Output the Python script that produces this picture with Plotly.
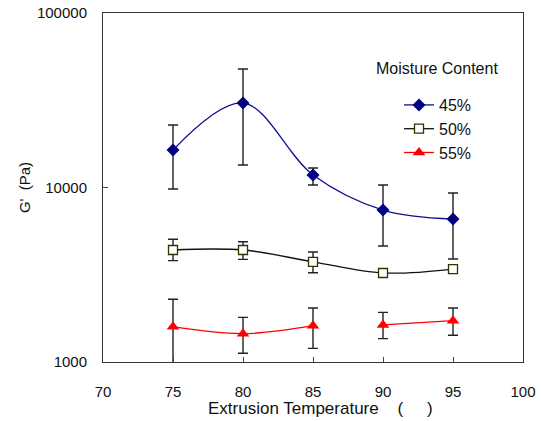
import plotly.graph_objects as go

temps = [75, 80, 85, 90, 95]

g45 = [16400, 30500, 11800, 7430, 6600]
g45_hi = [22800, 47800, 12940, 10330, 9300]
g45_lo = [9800, 13450, 10330, 4620, 3890]

g50 = [4385, 4385, 3750, 3236, 3410]
g50_hi = [5050, 4890, 4270, 3400, 3410]
g50_lo = [3810, 3875, 3250, 3080, 3410]

g55 = [1593, 1453, 1614, 1630, 1725]
g55_hi = [2287, 1803, 2039, 1926, 2039]
g55_lo = [960, 1122, 1197, 1361, 1422]

x_ticks = [70, 75, 80, 85, 90, 95, 100]
y_ticks = [1000, 10000, 100000]
y_labels = ["1000", "10000", "100000"]

FONT = "Liberation Sans, Arial, sans-serif"

# plot-area geometry in pixels (for placing the free texts)
L, R, T, B = 103, 523, 13, 362
PW, PH = R - L, B - T


def err(vals, hi, lo):
    return dict(
        type="data", symmetric=False,
        array=[h - v for h, v in zip(hi, vals)],
        arrayminus=[v - l for v, l in zip(vals, lo)],
        color="#222222", thickness=1.4, width=5,
    )


fig = go.Figure()

# 45%
fig.add_trace(go.Scatter(
    x=temps, y=g45, mode="lines+markers", name="45%",
    line=dict(color="#10108f", width=1.3, shape="spline", smoothing=1.0),
    marker=dict(symbol="diamond", size=10, color="#000080"),
    error_y=err(g45, g45_hi, g45_lo),
))

# 50%
fig.add_trace(go.Scatter(
    x=temps, y=g50, mode="lines+markers", name="50%",
    line=dict(color="#111111", width=1.3, shape="spline", smoothing=1.0),
    marker=dict(symbol="square", size=9, color="white",
                line=dict(color="#333300", width=1.3)),
    error_y=err(g50, g50_hi, g50_lo),
))

# 55% (line broken between 85 and 90 as in the original)
seg_a = slice(0, 3)
seg_b = slice(3, 5)
red_line = dict(color="red", width=1.3, shape="spline", smoothing=1.0)
red_marker = dict(symbol="triangle-up", size=11, color="red")
fig.add_trace(go.Scatter(
    x=temps[seg_a], y=g55[seg_a], mode="lines+markers", name="55%",
    line=red_line, marker=red_marker,
    error_y=err(g55[seg_a], g55_hi[seg_a], g55_lo[seg_a]),
))
fig.add_trace(go.Scatter(
    x=temps[seg_b], y=g55[seg_b], mode="lines+markers", showlegend=False,
    line=red_line, marker=red_marker,
    error_y=err(g55[seg_b], g55_hi[seg_b], g55_lo[seg_b]),
))

fig.add_annotation(
    text="Moisture Content", xref="paper", yref="paper",
    x=(437 - L) / PW, y=(B - 68) / PH, xanchor="center", yanchor="middle",
    showarrow=False, font=dict(size=16, color="#111111"),
)

fig.add_annotation(
    text="Extrusion Temperature\u00a0\u00a0\u00a0\u00a0(\u00a0\u00a0\u00a0\u00a0\u00a0)",
    xref="paper", yref="paper",
    x=(206 - L) / PW, y=(B - 408) / PH, xanchor="left", yanchor="middle",
    showarrow=False, font=dict(size=17, color="#111111"),
)

fig.update_layout(
    width=541, height=421,
    margin=dict(l=L, r=541 - R, t=T, b=421 - B),
    paper_bgcolor="white", plot_bgcolor="white",
    font=dict(family=FONT, size=15, color="#111111"),
    showlegend=True,
    legend=dict(
        x=(399 - L) / PW, y=(B - 88) / PH, xanchor="left", yanchor="top",
        bgcolor="rgba(0,0,0,0)", font=dict(size=16),
        itemwidth=30, tracegroupgap=0,
    ),
    xaxis=dict(
        range=[70, 100], tickvals=x_ticks, ticks="inside", ticklen=5,
        tickcolor="#444", showline=True, linecolor="#333", linewidth=1,
        mirror=True, showgrid=False, zeroline=False, automargin=False,
        ticklabelstandoff=16, tickfont=dict(size=15),
    ),
    yaxis=dict(
        type="log", range=[3, 5], tickvals=y_ticks, ticktext=y_labels,
        ticks="inside", ticklen=5, tickcolor="#444",
        showline=True, linecolor="#333", linewidth=1, mirror=True,
        showgrid=False, zeroline=False, ticklabelstandoff=12, automargin=False,
        tickfont=dict(size=15),
        title=dict(text="G'\u00a0\u00a0(Pa)", font=dict(size=15), standoff=2),
    ),
)

fig.write_html("out.html")
